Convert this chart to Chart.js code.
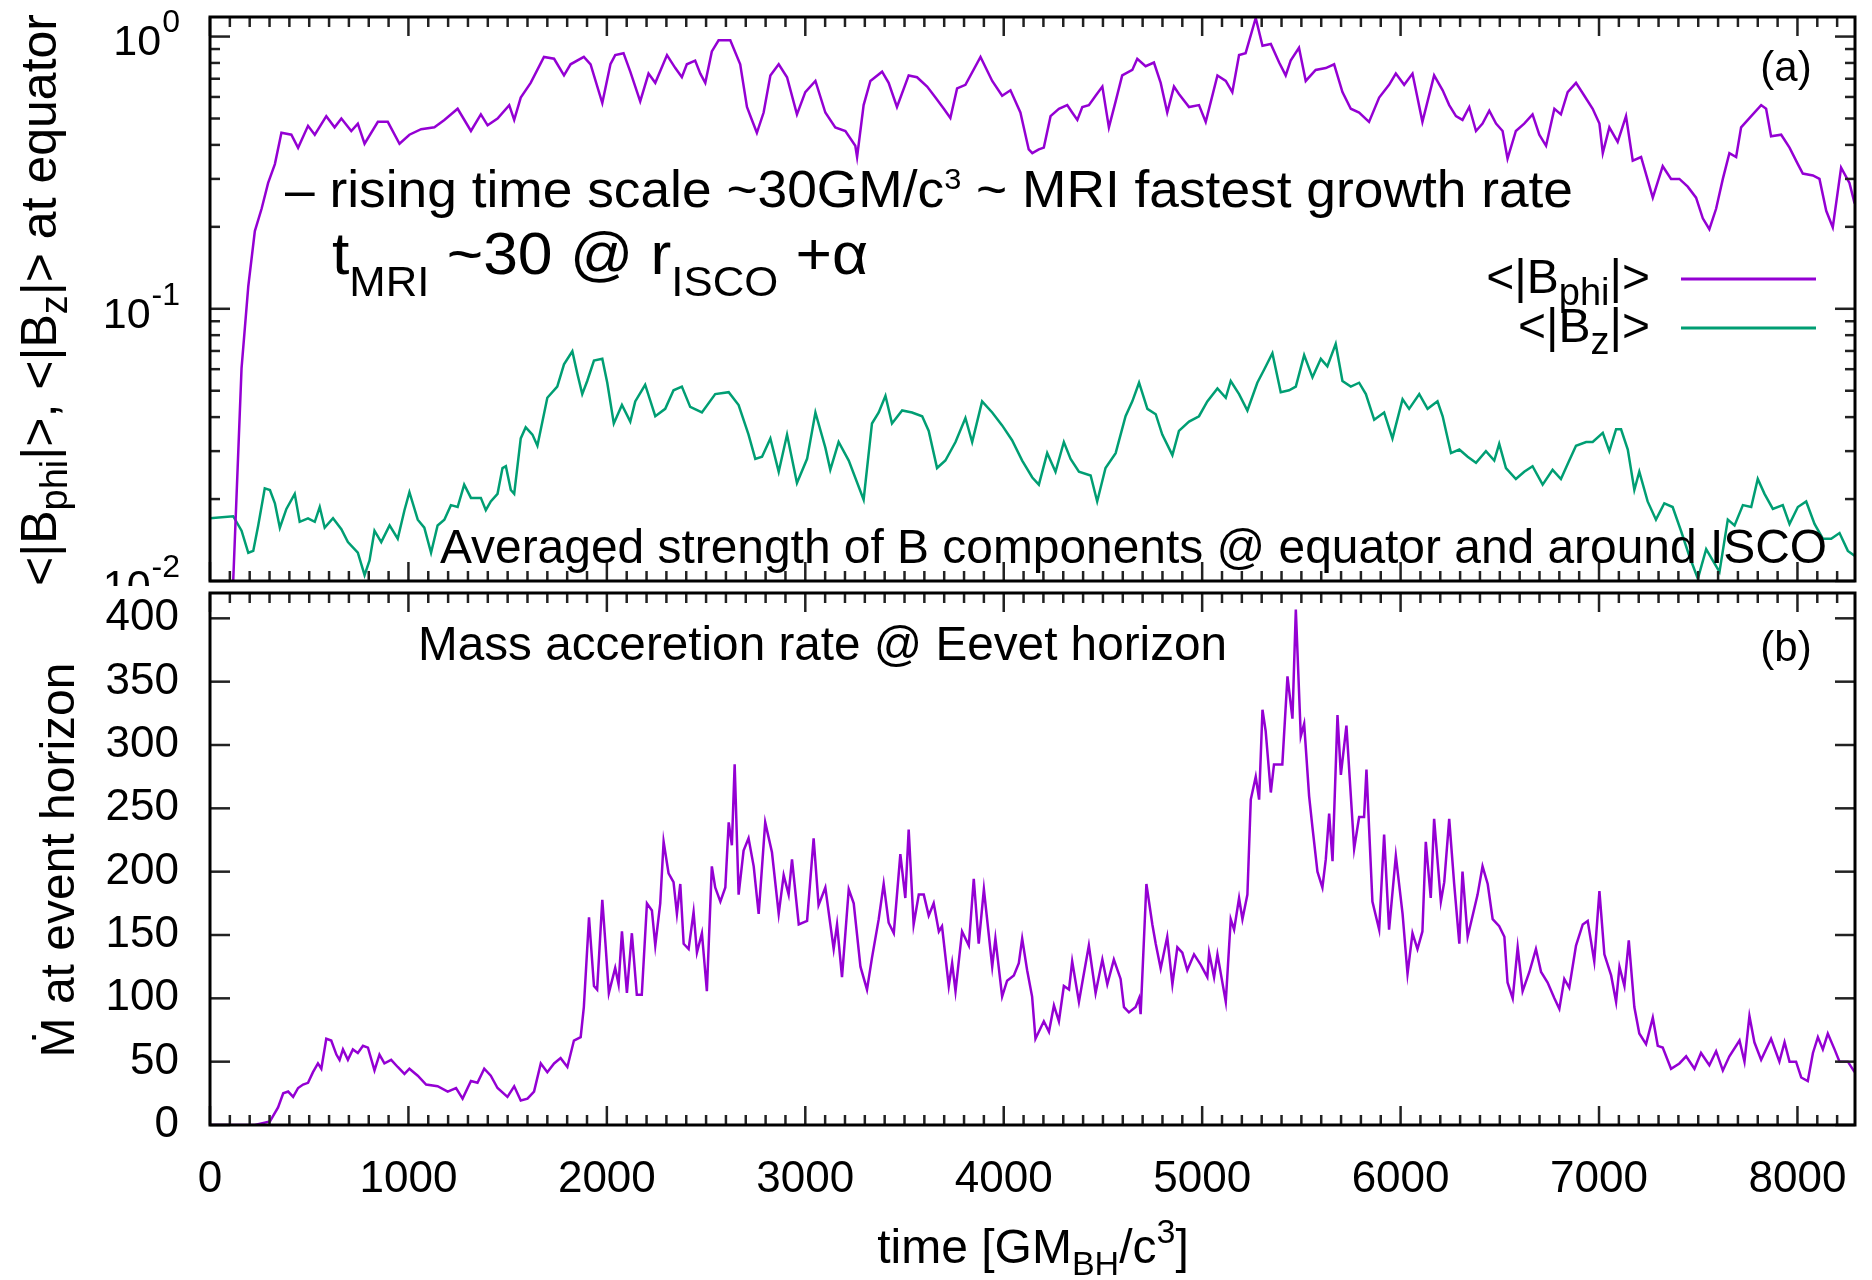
<!DOCTYPE html>
<html lang="en">
<head>
<meta charset="utf-8">
<title>B components and mass accretion rate</title>
<script src="https://cdn.jsdelivr.net/npm/chart.js@4.4.1/dist/chart.umd.min.js"></script>
<style>
  body { margin: 0; background: #ffffff; }
  #lienzo { position: relative; width: 1872px; height: 1280px; overflow: hidden; background: #ffffff; }
  #graficoA { position: absolute; left: 0; top: 0; }
  #graficoB { position: absolute; left: 0; top: 586px; }
</style>
</head>
<body>
<div id="lienzo">
  <canvas id="graficoA" width="1872" height="620"></canvas>
  <canvas id="graficoB" width="1872" height="694"></canvas>
</div>
<script>
// Datos (tiempo en GM_BH/c^3)
const tiempoBphi = [117,159,193,226,260,293,327,360,410,444,494,528,586,628,662,712,745,779,846,896,955,1005,1064,1131,1181,1248,1315,1365,1399,1449,1508,1533,1566,1616,1683,1734,1784,1817,1884,1918,1977,2018,
  2042,2084,2118,2168,2210,2244,2303,2345,2378,2403,2445,2471,2496,2529,2563,2622,2672,2706,2731,2756,2790,2824,2866,2908,2958,3000,3051,3101,3151,3202,3252,3261,3294,3328,3387,3420,3462,3521,3563,3614,3656,3698,3731,3765,3807,3883,3942,3992,4034,4084,4126,
  4144,4177,4202,4236,4278,4320,4345,4371,4396,4429,4463,4497,4530,4564,4597,4648,4673,4715,4757,4791,4824,4858,4883,4934,4984,5018,5077,5119,5152,5186,5219,5270,5304,5346,5388,5421,5446,5488,5522,5572,5623,5665,5707,5749,5791,5841,5892,5942,5976,6018,6060,6110,6169,
  6212,6245,6279,6312,6346,6380,6413,6447,6481,6514,6539,6581,6623,6665,6699,6733,6775,6808,6842,6884,6926,6968,7002,7019,7052,7094,7136,7170,7212,7271,7321,7363,7405,7447,7489,7523,7556,7590,7624,7657,7691,7716,7767,7817,7842,7867,7918,7960,8002,8027,8078,8111,8145,8178,8220,8262,8288];
const valoresBphi = [0.0100,0.0605,0.121,0.193,0.233,0.290,0.340,0.443,0.436,0.390,0.470,0.436,0.510,0.464,0.500,0.450,0.479,0.404,0.486,0.486,0.404,0.436,0.457,0.464,0.494,0.543,0.450,0.518,0.472,0.500,0.560,0.494,0.597,0.676,0.842,0.829,0.720,0.791,0.842,0.791,0.570,0.791,
  0.855,0.869,0.743,0.578,0.731,0.676,0.855,0.766,0.709,0.791,0.816,0.731,0.676,0.882,0.969,0.969,0.791,0.551,0.494,0.443,0.526,0.720,0.791,0.709,0.518,0.625,0.687,0.526,0.464,0.450,0.397,0.361,0.560,0.687,0.743,0.676,0.551,0.720,0.709,0.655,0.597,0.543,0.502,0.645,0.665,0.842,0.687,0.606,0.635,0.526,0.385,
  0.373,0.385,0.391,0.510,0.543,0.560,0.526,0.494,0.551,0.560,0.606,0.655,0.464,0.578,0.720,0.754,0.829,0.778,0.803,0.676,0.526,0.655,0.615,0.551,0.560,0.486,0.720,0.687,0.625,0.855,0.869,1.170,0.925,0.939,0.803,0.720,0.816,0.910,0.687,0.754,0.766,0.791,0.625,0.543,0.526,0.486,0.597,0.665,0.731,0.665,0.731,0.486,0.720,
  0.635,0.560,0.510,0.494,0.551,0.450,0.479,0.534,0.479,0.450,0.356,0.450,0.479,0.518,0.436,0.397,0.543,0.518,0.625,0.676,0.606,0.543,0.479,0.373,0.464,0.410,0.510,0.350,0.361,0.256,0.334,0.300,0.300,0.281,0.256,0.215,0.196,0.233,0.300,0.373,0.361,0.464,0.510,0.560,0.543,0.430,0.436,0.391,0.340,0.314,0.309,0.300,0.229,0.199,0.330,0.290,0.244];

const tiempoBz = [0,117,159,193,218,243,276,302,327,352,385,427,452,494,528,553,578,620,662,695,745,779,804,829,863,905,946,980,1005,1047,1080,1114,1147,1181,1214,1248,1281,1315,1365,1390,1415,1449,1474,1491,1516,1533,1566,1591,1625,1650,1700,1750,1784,1826,1851,1876,1901,1935,1977,2002,2035,
  2076,2118,2143,2193,2244,2294,2336,2378,2420,2479,2546,2614,2664,2714,2748,2782,2824,2866,2908,2958,3009,3051,3101,3126,3168,3219,3294,3336,3370,3404,3437,3488,3538,3589,3622,3664,3706,3757,3807,3841,3891,3942,3992,4042,4093,
  4144,4177,4219,4261,4303,4337,4379,4438,4471,4513,4564,4614,4648,4682,4724,4766,4799,4850,4883,4934,4984,5026,5077,5119,5144,5186,5228,5278,5312,5354,5396,5438,5472,5514,5556,5598,5631,5673,5707,5749,5791,5825,5867,5917,5959,6010,6043,6094,6136,6186,
  6212,6254,6296,6338,6380,6430,6472,6497,6531,6581,6623,6665,6716,6766,6808,6850,6884,6935,6968,7019,7052,7086,7111,7145,7178,7203,7245,7287,7329,7371,7413,7456,7498,7540,7573,7607,7649,7683,7725,7767,7800,7834,7876,7926,7960,8002,8044,8086,8128,8170,8212,8254,8293];
const valoresBz = [0.0170,0.0173,0.0153,0.0127,0.0129,0.0160,0.0219,0.0216,0.0193,0.0157,0.0184,0.0209,0.0165,0.0170,0.0165,0.0187,0.0157,0.0170,0.0155,0.0139,0.0127,0.0105,0.0119,0.0153,0.0139,0.0160,0.0143,0.0182,0.0212,0.0168,0.0157,0.0127,0.0160,0.0168,0.0190,0.0187,0.0226,0.0202,0.0202,0.0182,0.0196,0.0209,0.0260,0.0264,0.0216,0.0209,0.0334,0.0367,0.0345,0.0314,0.0471,0.0518,0.0625,0.0698,0.0578,0.0486,0.0543,0.0645,0.0655,0.0535,0.0379,
  0.0443,0.0385,0.0457,0.0526,0.0403,0.0429,0.0502,0.0518,0.0436,0.0416,0.0486,0.0494,0.0443,0.0345,0.0281,0.0286,0.0334,0.0252,0.0345,0.0229,0.0281,0.0416,0.0309,0.0256,0.0324,0.0277,0.0199,0.0379,0.0416,0.0479,0.0379,0.0423,0.0416,0.0403,0.0356,0.0260,0.0277,0.0324,0.0397,0.0324,0.0457,0.0416,0.0373,0.0329,0.0277,
  0.0240,0.0226,0.0295,0.0252,0.0324,0.0281,0.0252,0.0244,0.0196,0.0260,0.0295,0.0403,0.0457,0.0535,0.0429,0.0410,0.0345,0.0290,0.0356,0.0385,0.0403,0.0457,0.0510,0.0471,0.0543,0.0486,0.0423,0.0535,0.0597,0.0687,0.0494,0.0502,0.0518,0.0676,0.0560,0.0655,0.0615,0.0743,0.0543,0.0518,0.0535,0.0486,0.0391,0.0416,0.0334,0.0465,0.0429,0.0486,0.0429,0.0457,
  0.0403,0.0295,0.0304,0.0286,0.0272,0.0300,0.0277,0.0319,0.0260,0.0237,0.0252,0.0264,0.0226,0.0256,0.0237,0.0277,0.0314,0.0324,0.0324,0.0350,0.0300,0.0361,0.0361,0.0304,0.0216,0.0252,0.0196,0.0168,0.0193,0.0187,0.0153,0.0123,0.0102,0.0131,0.0119,0.0108,0.0168,0.0160,0.0190,0.0187,0.0237,0.0209,0.0184,0.0190,0.0162,0.0187,0.0196,0.0162,0.0143,0.0143,0.0150,0.0129,0.0123];

const tiempoMdot = [0,226,302,343,369,394,419,444,469,494,519,544,561,586,611,637,653,670,695,720,745,771,796,829,854,879,913,946,980,1005,1047,1089,1147,1198,1240,1273,1315,1348,1382,1415,1449,1499,1533,1566,1600,1633,1667,1700,1734,1767,1801,1834,1868,1884,1910,1935,1951,1977,1993,2010,
  2042,2059,2076,2101,2126,2151,2176,2202,2227,2244,2269,2286,2311,2336,2353,2370,2387,2412,2437,2454,2479,2504,2529,2546,2572,2597,2614,2630,2644,2664,2689,2714,2740,2765,2798,2832,2866,2891,2916,2933,2967,3009,3042,3067,3101,3143,3160,3185,3219,3244,3278,3311,3336,3370,3395,3420,3446,3479,3504,3521,3546,3572,3597,3622,3647,3673,3689,3723,3740,3757,3790,3824,3849,3874,3900,3942,3958,3992,4017,4051,4076,4093,4118,4143,4160,
  4202,4228,4253,4278,4303,4329,4345,4379,4396,4429,4463,4497,4522,4555,4589,4606,4631,4665,4682,4690,4719,4749,4766,4791,4824,4850,4875,4900,4925,4959,4993,5026,5035,5060,5077,5119,5144,5161,5186,5203,5228,5245,5270,5287,5304,5320,5346,5362,5404,5430,5455,5472,5497,5514,5539,5556,5581,5606,5623,5640,5657,5682,5699,5727,5766,5791,5816,5828,5858,5892,5917,5942,5976,6010,6035,6060,6085,6110,6127,6152,6169,
  6203,6220,6245,6270,6296,6312,6338,6388,6413,6439,6464,6497,6523,6539,6565,6590,6615,6649,6682,6708,6741,6775,6800,6825,6850,6884,6918,6943,6976,7002,7027,7061,7086,7103,7128,7150,7178,7203,7237,7271,7296,7321,7363,7405,7439,7481,7514,7556,7590,7624,7657,7708,7733,7758,7783,7817,7867,7909,7935,7960,7993,8019,8052,8078,8103,8128,8153,8187,8212,8254,8288];
const valoresMdot = [0,0,2.8,13.9,25.0,26.4,22.2,29.2,31.9,33.3,41.7,48.6,44.4,68.1,66.7,55.6,51.4,59.7,51.4,59.7,56.9,62.5,61.1,43.1,55.6,48.6,51.4,45.8,40.3,44.4,38.9,31.9,30.6,26.4,29.2,20.8,34.7,33.3,44.4,38.9,29.2,22.2,30.6,19.4,20.8,26.4,48.6,41.7,48.6,52.8,45.8,66.7,69.4,93.1,163.9,109.7,106.9,177.8,143.1,104.2,
  124.0,111.1,152.8,104.2,151.4,102.8,102.8,175.0,169.4,141.7,175.0,223.6,198.6,191.7,166.7,190.3,143.1,138.9,168.1,136.1,151.4,105.6,204.2,187.5,176.4,187.5,238.9,220.8,284.7,181.9,216.7,226.4,204.2,166.7,238.9,215.3,166.7,197.2,181.9,209.7,158.3,161.1,226.4,173.6,187.5,138.9,158.3,116.7,186.1,175.0,125.0,106.9,131.9,162.5,190.3,159.7,151.4,213.9,179.2,233.3,158.3,181.9,181.9,165.3,175.0,152.8,156.9,109.7,127.8,105.6,152.8,141.7,194.4,143.1,186.1,125.0,147.2,101.4,113.9,118.1,127.8,147.2,122.2,101.4,68.1,
  81.9,73.6,94.4,81.9,109.7,106.9,129.2,97.2,112.5,141.7,104.2,130.6,111.1,130.6,115.3,93.1,88.9,93.1,100.0,87.5,190.3,158.3,143.1,123.6,148.6,111.1,140.3,136.1,122.2,134.7,126.4,116.7,136.1,116.7,134.7,97.2,162.5,154.2,179.2,162.5,181.9,256.9,275.0,256.9,327.8,311.1,262.5,284.7,284.7,354.2,320.8,406.9,306.9,316.7,259.7,234.7,200.0,187.5,209.7,245.8,208.3,323.6,276.4,315.3,218.1,243.1,243.1,280.6,176.4,154.2,229.2,154.2,212.5,166.7,119.4,151.4,138.9,152.8,223.6,179.2,241.7,
  176.4,191.7,241.7,190.3,143.1,200.0,148.6,181.9,204.2,190.3,162.5,156.9,148.6,112.5,100.0,140.3,105.6,120.8,138.9,120.8,112.5,100.0,91.7,115.3,108.3,141.7,158.3,161.1,129.2,184.7,134.7,118.1,97.2,125.0,109.7,145.8,93.1,72.2,63.9,84.7,62.5,61.1,44.4,48.6,54.2,44.4,56.9,47.2,58.3,43.1,54.2,66.7,50.0,86.1,65.3,51.4,68.1,50.0,65.3,50.0,50.0,37.5,34.7,56.9,69.4,59.7,72.2,59.7,50.0,50.0,41.7];

// Ejes
const tiempoMax = 8290;
const ticksX = [0, 1000, 2000, 3000, 4000, 5000, 6000, 7000, 8000];
const ticksLogY = [0.01, 0.1, 1];
const exponentesY = ['-2', '-1', '0'];
const minLogY = 0.01;
const maxLogY = 1.18;
const ticksMdot = [0, 50, 100, 150, 200, 250, 300, 350, 400];
const maxMdot = 420;

// Textos
const textoPromedio = 'Averaged strength of B components @ equator and around ISCO';
const textoMasa = 'Mass acceretion rate @ Eevet horizon';
const tituloYB = '\u1E40 at event horizon';

const fuente = '"Liberation Sans", Arial, Helvetica, sans-serif';
const colorPhi = '#9400d3';
const colorZ = '#009e73';
const colorMarcas = '#222222';

function linea(ctx, x1, y1, x2, y2) {
  ctx.beginPath();
  ctx.moveTo(x1, y1);
  ctx.lineTo(x2, y2);
  ctx.stroke();
}

function medirPartes(ctx, partes) {
  let total = 0;
  for (const p of partes) {
    ctx.font = p.size + 'px ' + fuente;
    total += ctx.measureText(p.t).width;
  }
  return total;
}

// texto con subindices / superindices; "ancho" ajusta el ancho total
function textoRico(ctx, x, y, partes, ancho, alinear, giro) {
  const natural = medirPartes(ctx, partes);
  const f = ancho ? ancho / natural : 1;
  const w = natural * f;
  ctx.save();
  ctx.translate(x, y);
  if (giro) ctx.rotate(giro);
  if (alinear === 'right') ctx.translate(-w, 0);
  if (alinear === 'center') ctx.translate(-w / 2, 0);
  ctx.scale(f, 1);
  ctx.fillStyle = '#000';
  ctx.textAlign = 'left';
  ctx.textBaseline = 'alphabetic';
  let cx = 0;
  for (const p of partes) {
    ctx.font = p.size + 'px ' + fuente;
    ctx.fillText(p.t, cx, p.dy || 0);
    cx += ctx.measureText(p.t).width;
  }
  ctx.restore();
}

function marcasX(ctx, a, escala) {
  for (let t = 0; t <= tiempoMax; t += 100) {
    const px = escala.getPixelForValue(t);
    const largo = t % 1000 === 0 ? 19 : 10;
    linea(ctx, px, a.bottom, px, a.bottom - largo);
    linea(ctx, px, a.top, px, a.top + largo);
  }
}

function marco(ctx, a) {
  ctx.strokeStyle = '#000';
  ctx.lineWidth = 3;
  ctx.strokeRect(a.left, a.top, a.right - a.left, a.bottom - a.top);
}

const decoracionA = {
  id: 'decoracionA',
  afterDatasetsDraw(chart) {
    const ctx = chart.ctx;
    const a = chart.chartArea;
    const ey = chart.scales.y;
    ctx.save();
    ctx.strokeStyle = colorMarcas;
    ctx.lineWidth = 2.5;
    marcasX(ctx, a, chart.scales.x);
    for (const d of ticksLogY) {
      for (let m = 1; m <= 9; m++) {
        const v = d * m;
        if (v > maxLogY) break;
        const py = ey.getPixelForValue(v);
        const largo = m === 1 ? 20 : 10;
        linea(ctx, a.left, py, a.left + largo, py);
        linea(ctx, a.right, py, a.right - largo, py);
      }
    }
    marco(ctx, a);

    // etiquetas 10^n
    ctx.fillStyle = '#000';
    ctx.textAlign = 'right';
    ctx.textBaseline = 'middle';
    ticksLogY.forEach((v, i) => {
      const py = ey.getPixelForValue(v);
      ctx.font = '32px ' + fuente;
      const wSup = ctx.measureText(exponentesY[i]).width;
      ctx.fillText(exponentesY[i], 180, py - 13);
      ctx.font = '43px ' + fuente;
      ctx.fillText('10', 179 - wSup, py + 7);
    });

    // leyenda
    ctx.lineWidth = 3;
    ctx.strokeStyle = colorPhi;
    linea(ctx, 1681, 279, 1816, 279);
    ctx.strokeStyle = colorZ;
    linea(ctx, 1681, 328, 1816, 328);
    ctx.restore();

    textoRico(ctx, 1650, 293, [{t: '<|B', size: 48}, {t: 'phi', size: 38, dy: 12}, {t: '|>', size: 48}], null, 'right');
    textoRico(ctx, 1650, 342, [{t: '<|B', size: 48}, {t: 'z', size: 38, dy: 12}, {t: '|>', size: 48}], null, 'right');

    textoRico(ctx, 285, 207, [
      {t: '\u2013 rising time scale ~30GM/c', size: 52},
      {t: '3', size: 30, dy: -18},
      {t: ' ~ MRI fastest growth rate', size: 52}
    ], 1288);
    textoRico(ctx, 332, 274, [
      {t: 't', size: 60},
      {t: 'MRI', size: 42, dy: 22},
      {t: ' ~30 @ r', size: 60},
      {t: 'ISCO', size: 42, dy: 22},
      {t: ' +\u03b1', size: 60}
    ], 536);
    textoRico(ctx, 1786, 81, [{t: '(a)', size: 42}], null, 'center');
    textoRico(ctx, 440, 563, [{t: textoPromedio, size: 48}], 1387);

    // titulo del eje y
    textoRico(ctx, 56, 300, [
      {t: '<|B', size: 50},
      {t: 'phi', size: 38, dy: 11},
      {t: '|>, <|B', size: 50},
      {t: 'z', size: 38, dy: 11},
      {t: '|> at equator', size: 50}
    ], null, 'center', -Math.PI / 2);
  }
};

const decoracionB = {
  id: 'decoracionB',
  beforeDraw(chart) {
    const ctx = chart.ctx;
    ctx.save();
    ctx.fillStyle = '#ffffff';
    ctx.fillRect(0, 0, chart.width, chart.height);
    ctx.restore();
  },
  afterDatasetsDraw(chart) {
    const ctx = chart.ctx;
    const a = chart.chartArea;
    const ey = chart.scales.y;
    ctx.save();
    ctx.strokeStyle = colorMarcas;
    ctx.lineWidth = 2.5;
    marcasX(ctx, a, chart.scales.x);
    for (const v of ticksMdot) {
      const py = ey.getPixelForValue(v);
      linea(ctx, a.left, py, a.left + 20, py);
      linea(ctx, a.right, py, a.right - 20, py);
    }
    marco(ctx, a);
    ctx.restore();

    textoRico(ctx, 418, 74, [{t: textoMasa, size: 48}], 809);
    textoRico(ctx, 1786, 75, [{t: '(b)', size: 42}], null, 'center');
    textoRico(ctx, 74, 274, [{t: tituloYB, size: 48}], null, 'center', -Math.PI / 2);
    textoRico(ctx, 1033, 677, [
      {t: 'time [GM', size: 48},
      {t: 'BH', size: 34, dy: 12},
      {t: '/c', size: 48},
      {t: '3', size: 34, dy: -20},
      {t: ']', size: 48}
    ], null, 'center');
  }
};

const puntosBphi = tiempoBphi.map((t, i) => ({x: t, y: valoresBphi[i]}));
const puntosBz = tiempoBz.map((t, i) => ({x: t, y: valoresBz[i]}));
const puntosMdot = tiempoMdot.map((t, i) => ({x: t, y: valoresMdot[i]}));

const configA = {
  type: 'line',
  data: {
    datasets: [
      {label: '<|Bphi|>', data: puntosBphi, borderColor: colorPhi, borderWidth: 2.5, pointRadius: 0, tension: 0},
      {label: '<|Bz|>', data: puntosBz, borderColor: colorZ, borderWidth: 2.5, pointRadius: 0, tension: 0}
    ]
  },
  options: {
    responsive: false,
    animation: false,
    devicePixelRatio: 1,
    layout: {padding: {left: 0, right: 17, top: 17, bottom: 39}},
    plugins: {legend: {display: false}, tooltip: {enabled: false}},
    scales: {
      x: {type: 'linear', min: 0, max: tiempoMax, display: false},
      y: {
        type: 'logarithmic', min: minLogY, max: maxLogY,
        grid: {display: false}, border: {display: false},
        ticks: {display: false},
        afterFit: s => { s.width = 210; s.paddingTop = 0; s.paddingBottom = 0; }
      }
    }
  },
  plugins: [decoracionA]
};

const configB = {
  type: 'line',
  data: {
    datasets: [
      {label: 'Mdot', data: puntosMdot, borderColor: colorPhi, borderWidth: 2.5, pointRadius: 0, tension: 0}
    ]
  },
  options: {
    responsive: false,
    animation: false,
    devicePixelRatio: 1,
    layout: {padding: {left: 0, right: 17, top: 7, bottom: 0}},
    plugins: {legend: {display: false}, tooltip: {enabled: false}},
    scales: {
      x: {
        type: 'linear', min: 0, max: tiempoMax,
        grid: {display: false, drawTicks: false}, border: {display: false},
        afterBuildTicks: s => { s.ticks = ticksX.map(v => ({value: v})); },
        ticks: {color: '#000', font: {family: fuente, size: 44}, padding: 28, maxRotation: 0, autoSkip: false, callback: v => String(v)},
        afterFit: s => { s.height = 155; s.paddingLeft = 0; s.paddingRight = 0; }
      },
      y: {
        min: 0, max: maxMdot,
        grid: {display: false, drawTicks: false}, border: {display: false},
        afterBuildTicks: s => { s.ticks = ticksMdot.map(v => ({value: v})); },
        ticks: {color: '#000', font: {family: fuente, size: 44}, padding: 31, callback: v => String(v)},
        afterFit: s => { s.width = 210; s.paddingTop = 0; s.paddingBottom = 0; }
      }
    }
  },
  plugins: [decoracionB]
};

new Chart(document.getElementById('graficoA'), configA);
new Chart(document.getElementById('graficoB'), configB);
</script>
</body>
</html>
